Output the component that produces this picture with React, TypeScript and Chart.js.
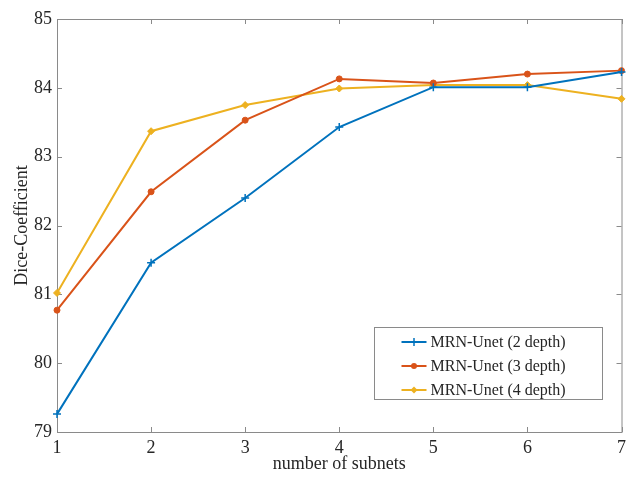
import React, { useEffect, useRef } from "react";
import { Chart, registerables } from "chart.js";

Chart.register(...registerables);

const subnets = [1, 2, 3, 4, 5, 6, 7];
const depth2 = [79.26, 81.46, 82.4, 83.43, 84.01, 84.01, 84.23];
const depth3 = [80.77, 82.49, 83.53, 84.13, 84.07, 84.2, 84.25];
const depth4 = [81.02, 83.37, 83.75, 83.99, 84.04, 84.04, 83.84];
const seriesNames = ["MRN-Unet (2 depth)", "MRN-Unet (3 depth)", "MRN-Unet (4 depth)"];
const xTicks = [1, 2, 3, 4, 5, 6, 7];
const yTicks = [79, 80, 81, 82, 83, 84, 85];

const COLORS = ["#0072BD", "#D95319", "#EDB120"];
const POINT_STYLES = ["cross", "circle", "rectRot"];
const POINT_RADII = [4, 3, 3.5];
const FONT = "'Liberation Serif', 'Times New Roman', serif";
const AXIS_GRAY = "#8a8a8a";
const TEXT = "#262626";

const boxPlugin = {
  id: "matlabBox",
  beforeDatasetsDraw(chart: any) {
    const { ctx, chartArea: a, scales } = chart;
    ctx.save();
    ctx.strokeStyle = AXIS_GRAY;
    ctx.lineWidth = 1;
    ctx.strokeRect(a.left + 0.5, a.top + 0.5, a.right - a.left, a.bottom - a.top);
    const tl = 5;
    ctx.beginPath();
    xTicks.forEach((v) => {
      const x = Math.round(scales.x.getPixelForValue(v)) + 0.5;
      ctx.moveTo(x, a.bottom);
      ctx.lineTo(x, a.bottom - tl);
      ctx.moveTo(x, a.top);
      ctx.lineTo(x, a.top + tl);
    });
    yTicks.forEach((v) => {
      const y = Math.round(scales.y.getPixelForValue(v)) + 0.5;
      ctx.moveTo(a.left, y);
      ctx.lineTo(a.left + tl, y);
      ctx.moveTo(a.right, y);
      ctx.lineTo(a.right - tl, y);
    });
    ctx.stroke();
    ctx.restore();
  },
  afterDraw(chart: any) {
    const { ctx, chartArea: a } = chart;
    const w = 228;
    const h = 72;
    const x0 = a.right - 20 - w;
    const y0 = a.bottom - 33 - h;
    ctx.save();
    ctx.fillStyle = "#ffffff";
    ctx.fillRect(x0, y0, w, h);
    ctx.strokeStyle = AXIS_GRAY;
    ctx.lineWidth = 1;
    ctx.strokeRect(Math.round(x0) + 0.5, Math.round(y0) + 0.5, w, h);
    ctx.font = `16px ${FONT}`;
    ctx.textBaseline = "middle";
    ctx.textAlign = "left";
    seriesNames.forEach((name, i) => {
      const cy = y0 + 15 + i * 24;
      const lx0 = x0 + 28;
      const lx1 = x0 + 53;
      ctx.strokeStyle = COLORS[i];
      ctx.lineWidth = 2;
      ctx.beginPath();
      ctx.moveTo(lx0, cy);
      ctx.lineTo(lx1, cy);
      ctx.stroke();
      const mx = (lx0 + lx1) / 2;
      ctx.fillStyle = COLORS[i];
      ctx.lineWidth = 1.5;
      if (POINT_STYLES[i] === "cross") {
        ctx.beginPath();
        ctx.moveTo(mx, cy - 4);
        ctx.lineTo(mx, cy + 4);
        ctx.stroke();
      } else if (POINT_STYLES[i] === "circle") {
        ctx.beginPath();
        ctx.arc(mx, cy, 3, 0, Math.PI * 2);
        ctx.fill();
      } else {
        ctx.beginPath();
        ctx.moveTo(mx, cy - 3.5);
        ctx.lineTo(mx + 3.5, cy);
        ctx.lineTo(mx, cy + 3.5);
        ctx.lineTo(mx - 3.5, cy);
        ctx.closePath();
        ctx.fill();
      }
      ctx.fillStyle = TEXT;
      ctx.fillText(name, x0 + 57, cy + 1);
    });
    ctx.restore();
  },
};

export default function App() {
  const ref = useRef<HTMLCanvasElement>(null);
  useEffect(() => {
    const canvas = ref.current;
    if (!canvas) return;
    const all = [depth2, depth3, depth4];
    const chart = new Chart(canvas, {
      type: "line",
      data: {
        datasets: all.map((vals, i) => ({
          label: seriesNames[i],
          data: subnets.map((x, j) => ({ x, y: vals[j] })),
          borderColor: COLORS[i],
          backgroundColor: COLORS[i],
          borderWidth: 2,
          pointStyle: POINT_STYLES[i] as any,
          pointRadius: POINT_RADII[i],
          pointBorderWidth: i === 0 ? 1.5 : 1,
          pointBackgroundColor: COLORS[i],
          pointBorderColor: COLORS[i],
          tension: 0,
          clip: false,
        })),
      },
      options: {
        responsive: false,
        animation: false,
        devicePixelRatio: 1,
        layout: { padding: { top: 19, right: 3, left: 0, bottom: 0 } },
        plugins: { legend: { display: false }, tooltip: { enabled: false } },
        scales: {
          x: {
            type: "linear",
            min: 1,
            max: 7,
            afterBuildTicks: (s: any) => {
              s.ticks = xTicks.map((v) => ({ value: v }));
            },
            afterFit: (s: any) => {
              s.height = 50;
              s.paddingLeft = 0;
              s.paddingRight = 0;
            },
            grid: { display: false, drawTicks: false },
            border: { display: false },
            ticks: {
              color: TEXT,
              font: { family: FONT, size: 18 },
              padding: 5,
              maxRotation: 0,
              autoSkip: false,
            },
            title: {
              display: true,
              text: "number of subnets",
              color: TEXT,
              font: { family: FONT, size: 18 },
              padding: { top: 0, bottom: 7 },
            },
          },
          y: {
            type: "linear",
            min: 79,
            max: 85,
            afterBuildTicks: (s: any) => {
              s.ticks = yTicks.map((v) => ({ value: v }));
            },
            afterFit: (s: any) => {
              s.width = 57;
            },
            grid: { display: false, drawTicks: false },
            border: { display: false },
            ticks: {
              color: TEXT,
              font: { family: FONT, size: 18 },
              padding: 5,
              autoSkip: false,
            },
            title: {
              display: true,
              text: "Dice-Coefficient",
              color: TEXT,
              font: { family: FONT, size: 18 },
              padding: { top: 11, bottom: 0 },
            },
          },
        },
      },
      plugins: [boxPlugin],
    } as any);
    return () => chart.destroy();
  }, []);
  return (
    <div style={{ position: "absolute", left: 0, top: 0, width: 627, height: 482, background: "#fff" }}>
      <canvas ref={ref} width={627} height={482} />
    </div>
  );
}
